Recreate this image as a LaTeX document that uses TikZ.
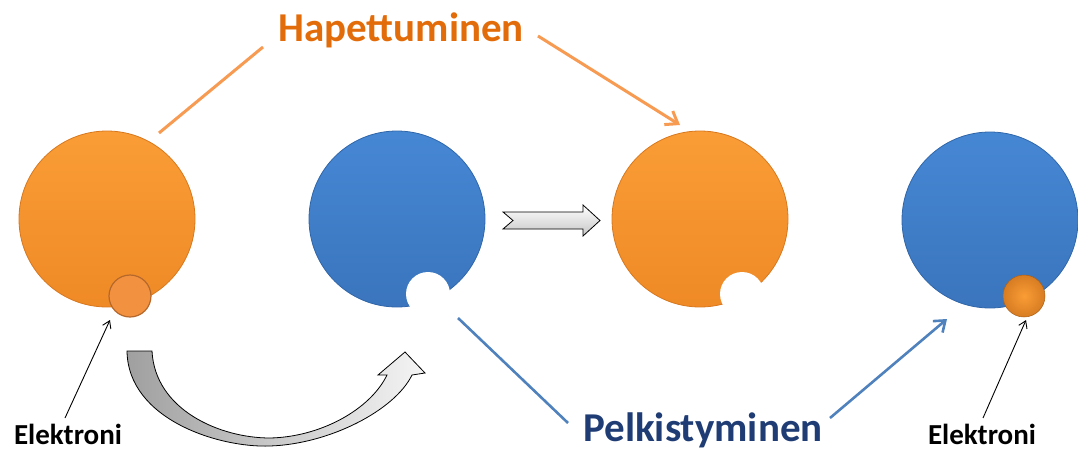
\documentclass[tikz,border=0pt]{standalone}
\usepackage{fontspec}
\setmainfont{Carlito}
\usetikzlibrary{arrows.meta}
\definecolor{orTop}{HTML}{FA9D36}
\definecolor{orBot}{HTML}{EF8A26}
\definecolor{orEdge}{HTML}{D8781E}
\definecolor{blTop}{HTML}{4687D4}
\definecolor{blBot}{HTML}{3A75BD}
\definecolor{blEdge}{HTML}{2F66AA}
\definecolor{hapText}{HTML}{E36C0A}
\definecolor{pelText}{HTML}{1F3D74}
\definecolor{orLine}{HTML}{F79A52}
\definecolor{blLine}{HTML}{4F81BD}
\definecolor{elFlat}{HTML}{F2913F}
\definecolor{elEdge}{HTML}{B5682C}
\tikzset{
  atom/.style={circle, inner sep=0pt, minimum size=176pt, line width=0.8pt},
  orangeatom/.style={atom, draw=orEdge, top color=orTop, bottom color=orBot},
  blueatom/.style={atom, draw=blEdge, top color=blTop, bottom color=blBot},
  hole/.style={circle, inner sep=0pt, minimum size=44pt, fill=white},
  flatel/.style={circle, inner sep=0pt, minimum size=42pt, fill=elFlat, draw=elEdge, line width=1.2pt},
  ballel/.style={circle, inner sep=0pt, minimum size=42pt, inner color=orTop, outer color=orBot!90!black, draw=orEdge!80!black, line width=0.5pt},
  title/.style={font=\bfseries\fontsize{41}{45}\selectfont, inner sep=0pt},
  label/.style={font=\bfseries\fontsize{29}{32}\selectfont, inner sep=0pt, text=black},
  orline/.style={draw=orLine, line width=3pt},
  blline/.style={draw=blLine, line width=2.6pt},
  elarrow/.style={draw=black, line width=0.9pt, -{Straight Barb[length=7pt,width=9pt]}},
  blockarrow/.style={draw=black, line width=0.8pt, top color=white, bottom color=gray!45}
}
\begin{document}
\begin{tikzpicture}[x=1pt,y=-1pt]
\useasboundingbox (0,0) rectangle (1078,455);

% atoms
\node[orangeatom] (a1) at (107,219) {};
\node[flatel] (e1) at (130,296) {};
\node[blueatom] (a2) at (397,219) {};
\node[hole] (h2) at (428,294) {};
\node[orangeatom] (a3) at (700,219) {};
\node[hole] (h3) at (742,294) {};
\node[blueatom] (a4) at (990,220) {};
\node[ballel] (e4) at (1024,296) {};

% titles
\node[title, text=hapText] (hap) at (401,30) {Hapettuminen};
\node[title, text=pelText] (pel) at (703,430) {Pelkistyminen};

% labels
\node[label] (l1) at (68,434) {Elektroni};
\node[label] (l4) at (982,434) {Elektroni};

% oxidation lines
\coordinate (hapL1) at (159,133);
\coordinate (hapL2) at (263,47);
\coordinate (hapR1) at (538,36);
\coordinate (hapR2) at (680,125);
\draw[orline] (hapL1) -- (hapL2);
\draw[orline, -{Straight Barb[length=11pt,width=16pt,line width=3pt]}] (hapR1) -- (hapR2);

% reduction lines
\coordinate (pelL1) at (458,318);
\coordinate (pelL2) at (568,423);
\coordinate (pelR1) at (830,418);
\coordinate (pelR2) at (947,319);
\draw[blline] (pelL1) -- (pelL2);
\draw[blline, -{Straight Barb[length=10pt,width=15pt,line width=2.6pt]}] (pelR1) -- (pelR2);

% electron arrows
\coordinate (el1s) at (65,418);
\coordinate (el1e) at (110,320);
\coordinate (el4s) at (983,418);
\coordinate (el4e) at (1026,320);
\draw[elarrow] (el1s) -- (el1e);
\draw[elarrow] (el4s) -- (el4e);

% block arrow between atoms 2 and 3
\draw[blockarrow] (503,212) -- (583,212) -- (583,205) -- (600,220.5) -- (583,236) -- (583,229) -- (503,229) -- (513,220.5) -- cycle;

% curved arrow
\draw[line width=0.8pt, draw=black, left color=gray!75, right color=gray!8]
  (127,351) .. controls (128,420) and (220,448) .. (270,446)
  .. controls (330,444) and (395,410) .. (412,375)
  -- (425,373) -- (405,352) -- (378,375) -- (387,375)
  .. controls (370,410) and (320,437) .. (270,438)
  .. controls (220,438) and (155,410) .. (152,351) -- cycle;
\end{tikzpicture}
\end{document}
